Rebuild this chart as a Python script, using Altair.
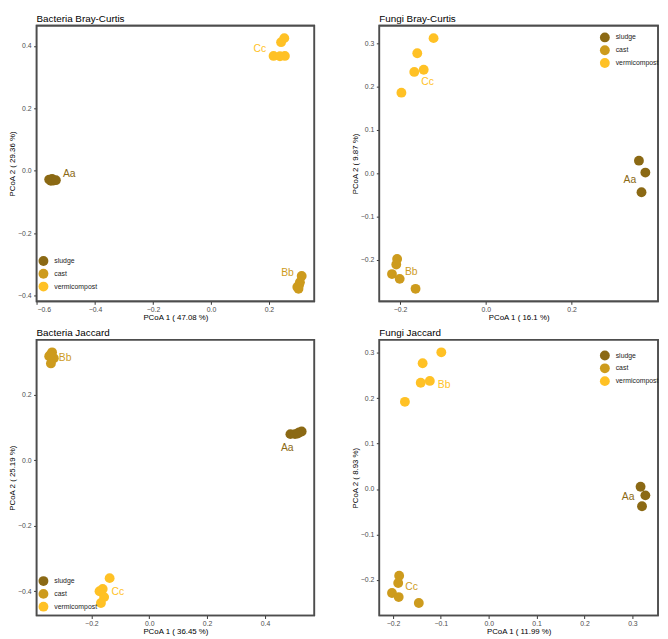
import altair as alt
import pandas as pd

GROUPS = ["sludge", "cast", "vermicompost"]
COLORS = ["#8B6914", "#CD9B1D", "#FFC125"]
FONT = "Liberation Sans"

# ---------------- Panel 1: Bacteria Bray-Curtis ----------------
P1_TITLE = "Bacteria Bray-Curtis"
P1_XTITLE = "PCoA 1 ( 47.08 %)"
P1_YTITLE = "PCoA 2 ( 29.36 %)"
P1_GROUP = ["sludge"] * 5 + ["cast"] * 5 + ["vermicompost"] * 5
P1_X = [-0.558, -0.552, -0.548, -0.543, -0.535,
        0.313, 0.307, 0.304, 0.298, 0.302,
        0.216, 0.238, 0.255, 0.242, 0.253]
P1_Y = [-0.028, -0.032, -0.026, -0.031, -0.030,
        -0.337, -0.357, -0.366, -0.372, -0.378,
        0.368, 0.367, 0.368, 0.412, 0.425]
P1_LABEL = ["Aa", "Bb", "Cc"]
P1_LABEL_GROUP = ["sludge", "cast", "vermicompost"]
P1_LABEL_X = [-0.489, 0.264, 0.169]
P1_LABEL_Y = [-0.010, -0.327, 0.390]
P1_XTICKS = [-0.6, -0.4, -0.2, 0.0, 0.2]
P1_YTICKS = [-0.4, -0.2, 0.0, 0.2, 0.4]

# ---------------- Panel 2: Fungi Bray-Curtis ----------------
P2_TITLE = "Fungi Bray-Curtis"
P2_XTITLE = "PCoA 1 ( 16.1 %)"
P2_YTITLE = "PCoA 2 ( 9.87 %)"
P2_GROUP = ["sludge"] * 3 + ["cast"] * 5 + ["vermicompost"] * 5
P2_X = [0.357, 0.372, 0.363,
        -0.207, -0.209, -0.219, -0.201, -0.164,
        -0.122, -0.160, -0.167, -0.145, -0.197]
P2_Y = [0.029, 0.0015, -0.044,
        -0.198, -0.211, -0.233, -0.244, -0.267,
        0.312, 0.277, 0.234, 0.239, 0.186]
P2_LABEL = ["Aa", "Bb", "Cc"]
P2_LABEL_GROUP = ["sludge", "cast", "vermicompost"]
P2_LABEL_X = [0.336, -0.174, -0.136]
P2_LABEL_Y = [-0.015, -0.229, 0.211]
P2_XTICKS = [-0.2, 0.0, 0.2]
P2_YTICKS = [-0.2, -0.1, 0.0, 0.1, 0.2, 0.3]

# ---------------- Panel 3: Bacteria Jaccard ----------------
P3_TITLE = "Bacteria Jaccard"
P3_XTITLE = "PCoA 1 ( 36.45 %)"
P3_YTITLE = "PCoA 2 ( 25.19 %)"
P3_GROUP = ["sludge"] * 5 + ["cast"] * 5 + ["vermicompost"] * 5
P3_X = [0.488, 0.504, 0.518, 0.527, 0.513,
        -0.336, -0.346, -0.330, -0.340, -0.342,
        -0.137, -0.172, -0.161, -0.156, -0.167]
P3_Y = [0.080, 0.080, 0.085, 0.088, 0.082,
        0.330, 0.318, 0.312, 0.296, 0.322,
        -0.360, -0.400, -0.393, -0.418, -0.436]
P3_LABEL = ["Aa", "Bb", "Cc"]
P3_LABEL_GROUP = ["sludge", "cast", "vermicompost"]
P3_LABEL_X = [0.477, -0.291, -0.109]
P3_LABEL_Y = [0.037, 0.313, -0.404]
P3_XTICKS = [-0.2, 0.0, 0.2, 0.4]
P3_YTICKS = [-0.4, -0.2, 0.0, 0.2]

# ---------------- Panel 4: Fungi Jaccard ----------------
P4_TITLE = "Fungi Jaccard"
P4_XTITLE = "PCoA 1 ( 11.99 %)"
P4_YTITLE = "PCoA 2 ( 8.93 %)"
P4_GROUP = ["sludge"] * 3 + ["cast"] * 5 + ["vermicompost"] * 5
P4_X = [0.317, 0.327, 0.320,
        -0.187, -0.189, -0.202, -0.188, -0.146,
        -0.099, -0.138, -0.142, -0.123, -0.175]
P4_Y = [0.005, -0.014, -0.038,
        -0.191, -0.207, -0.229, -0.238, -0.251,
        0.301, 0.277, 0.234, 0.238, 0.192]
P4_LABEL = ["Aa", "Cc", "Bb"]
P4_LABEL_GROUP = ["sludge", "cast", "vermicompost"]
P4_LABEL_X = [0.291, -0.161, -0.093]
P4_LABEL_Y = [-0.018, -0.215, 0.228]
P4_XTICKS = [-0.2, -0.1, 0.0, 0.1, 0.2, 0.3]
P4_YTICKS = [-0.2, -0.1, 0.0, 0.1, 0.2, 0.3]


def expand(vals, frac=0.05):
    lo, hi = min(vals), max(vals)
    pad = (hi - lo) * frac
    return [lo - pad, hi + pad]


def panel(title, xs, ys, grp, labs, lgrp, lxs, lys, xtitle, ytitle,
          xticks, yticks, w, h, legx, legy):
    pts = pd.DataFrame({"x": xs, "y": ys, "group": grp})
    lab = pd.DataFrame({"x": lxs, "y": lys, "label": labs, "group": lgrp})
    xscale = alt.Scale(domain=expand(xs), nice=False, zero=False)
    yscale = alt.Scale(domain=expand(ys), nice=False, zero=False)
    xenc = alt.X("x:Q", scale=xscale,
                 axis=alt.Axis(values=xticks, format=".1f", title=xtitle))
    yenc = alt.Y("y:Q", scale=yscale,
                 axis=alt.Axis(values=yticks, format=".1f", title=ytitle))
    legend = alt.Legend(orient="none", legendX=legx, legendY=legy, title=None,
                        symbolType="circle", symbolSize=100, symbolOpacity=1,
                        symbolStrokeWidth=0, labelFontSize=7, labelOffset=6,
                        rowPadding=3, labelFont=FONT, labelColor="#222222")
    cscale = alt.Scale(domain=GROUPS, range=COLORS)
    frame = alt.Chart(pd.DataFrame({"f": [0]})).mark_rect(
        filled=False, stroke="#4D4D4D", strokeWidth=1.6, strokeOpacity=1,
        opacity=1
    ).encode(x=alt.value(0), x2=alt.value(w), y=alt.value(0), y2=alt.value(h))
    points = alt.Chart(pts).mark_circle(size=100, opacity=1).encode(
        x=xenc, y=yenc,
        color=alt.Color("group:N", scale=cscale, sort=GROUPS, legend=legend),
    )
    text = alt.Chart(lab).mark_text(fontSize=10.5, font=FONT).encode(
        x=xenc, y=yenc, text="label:N",
        color=alt.Color("group:N", scale=cscale, sort=GROUPS, legend=legend),
    )
    return alt.layer(
        points, text, frame,
        title=alt.Title(title, font=FONT, fontSize=10, fontWeight="normal",
                        anchor="start", frame="group", offset=1, color="black"),
    ).properties(width=w, height=h)


W_L, W_R, H = 282, 283, 280

p1 = panel(P1_TITLE, P1_X, P1_Y, P1_GROUP, P1_LABEL, P1_LABEL_GROUP,
           P1_LABEL_X, P1_LABEL_Y, P1_XTITLE, P1_YTITLE, P1_XTICKS, P1_YTICKS,
           W_L, H, 2, H - 46)
p2 = panel(P2_TITLE, P2_X, P2_Y, P2_GROUP, P2_LABEL, P2_LABEL_GROUP,
           P2_LABEL_X, P2_LABEL_Y, P2_XTITLE, P2_YTITLE, P2_XTICKS, P2_YTICKS,
           W_R, H, W_R - 59, 7)
p3 = panel(P3_TITLE, P3_X, P3_Y, P3_GROUP, P3_LABEL, P3_LABEL_GROUP,
           P3_LABEL_X, P3_LABEL_Y, P3_XTITLE, P3_YTITLE, P3_XTICKS, P3_YTICKS,
           W_L, H, 2, H - 40)
p4 = panel(P4_TITLE, P4_X, P4_Y, P4_GROUP, P4_LABEL, P4_LABEL_GROUP,
           P4_LABEL_X, P4_LABEL_Y, P4_XTITLE, P4_YTITLE, P4_XTICKS, P4_YTICKS,
           W_R, H, W_R - 59, 11)

row1 = alt.hconcat(p1, p2, spacing=35).resolve_scale(color="independent").resolve_legend(color="independent")
row2 = alt.hconcat(p3, p4, spacing=35).resolve_scale(color="independent").resolve_legend(color="independent")

chart = (
    alt.vconcat(row1, row2, spacing=4)
    .resolve_scale(color="independent")
    .resolve_legend(color="independent")
    .properties(padding=0, background="white")
    .configure(style={"group-title": {"font": FONT, "fontSize": 10,
                                      "fontWeight": "normal", "fill": "black"}})
    .configure_view(stroke="#4D4D4D", strokeWidth=1.6)
    .configure_axis(grid=False, domain=False, tickColor="#333333", tickSize=3,
                    tickWidth=1, labelFontSize=7, labelColor="#4D4D4D",
                    labelFont=FONT, titleFont=FONT, titleFontSize=8,
                    titleFontWeight="normal", titleColor="black")
    .configure_axisX(labelPadding=1, titlePadding=1.5)
    .configure_axisY(labelPadding=2.5, titlePadding=2, minExtent=18, maxExtent=18)
    .configure_title(font=FONT, fontSize=10, fontWeight="normal", anchor="start",
                     frame="group", offset=1, color="black")
)

chart.save("out.html", embed_options={"renderer": "svg", "actions": False})
